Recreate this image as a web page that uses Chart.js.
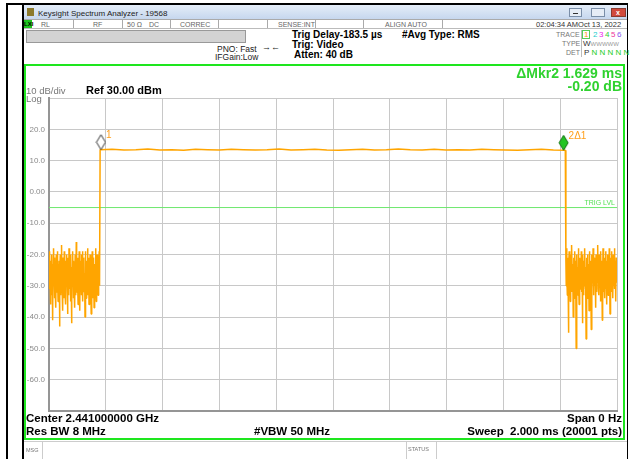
<!DOCTYPE html>
<html>
<head>
<meta charset="utf-8">
<script src="https://cdn.jsdelivr.net/npm/chart.js@4.4.0/dist/chart.umd.min.js"></script>
<style>
body{margin:0;width:631px;height:459px;overflow:hidden;background:#fff;font-family:"Liberation Sans",Arial,sans-serif;position:relative}
.a{position:absolute;white-space:nowrap;line-height:1}
.b{font-weight:bold;color:#000}
.s{font-size:7px;color:#666}
.ln{position:absolute}
#frame{position:absolute;left:24px;top:64px;width:601px;height:376px;border:2px solid #1ee61e;box-sizing:border-box}
#wrap{position:absolute;left:26px;top:66px;width:597px;height:373px}
</style>
</head>
<body>
<!-- outer page lines -->
<div class="ln" style="left:6px;top:3px;width:2px;height:456px;background:#000"></div>
<div class="ln" style="left:6px;top:3px;width:622px;height:2px;background:#000"></div>
<div class="ln" style="left:627px;top:3px;width:1px;height:456px;background:#000"></div>
<div class="ln" style="left:22px;top:5px;width:2px;height:454px;background:#000"></div>

<!-- title bar -->
<div class="ln" style="left:24px;top:5px;width:603px;height:14px;background:linear-gradient(#e4edf8,#c6d7ee)"></div>
<div class="ln" style="left:27px;top:8px;width:7px;height:8px;background:#8c7a2c"></div>
<div class="a" style="left:38px;top:10px;font-size:8px;color:#222">Keysight Spectrum Analyzer - 19568</div>
<div class="ln" style="left:569px;top:8px;width:13px;height:9px;border:1px solid #7a8ea8;background:#e6edf6;box-sizing:border-box"></div>
<div class="ln" style="left:573px;top:13px;width:5px;height:1px;background:#333"></div>
<div class="ln" style="left:591px;top:8px;width:14px;height:9px;border:1px solid #7a8ea8;background:#e6edf6;box-sizing:border-box"></div>
<div class="ln" style="left:611px;top:8px;width:15px;height:9px;border:1px solid #8a3a30;background:#d24a3c;box-sizing:border-box"></div>
<div class="a" style="left:616px;top:9px;font-size:7px;color:#fff;font-weight:bold">x</div>

<!-- status row -->
<div class="ln" style="left:24px;top:19px;width:603px;height:1px;background:#aaa"></div>
<div class="ln" style="left:24px;top:28px;width:603px;height:1px;background:#bbb"></div>
<div class="ln" style="left:24px;top:20px;width:8px;height:8px;background:#1ec51e"></div>
<div class="a" style="left:24px;top:21px;font-size:6px;color:#000;font-weight:bold">LXI</div>
<div class="a s" style="left:41px;top:21px">RL</div>
<div class="a s" style="left:93px;top:21px">RF</div>
<div class="a s" style="left:127px;top:21px">50 Ω</div>
<div class="a s" style="left:149px;top:21px">DC</div>
<div class="a s" style="left:180px;top:21px">CORREC</div>
<div class="a s" style="left:278px;top:21px">SENSE:INT</div>
<div class="a s" style="left:385px;top:21px">ALIGN AUTO</div>
<div class="a" style="left:536px;top:21px;font-size:7.5px;color:#333">02:04:34 AMOct 13, 2022</div>
<div class="ln" style="left:73px;top:20px;width:1px;height:8px;background:#aaa"></div>
<div class="ln" style="left:122px;top:20px;width:1px;height:8px;background:#aaa"></div>
<div class="ln" style="left:170px;top:20px;width:1px;height:8px;background:#aaa"></div>
<div class="ln" style="left:218px;top:20px;width:1px;height:8px;background:#aaa"></div>
<div class="ln" style="left:267px;top:20px;width:1px;height:8px;background:#aaa"></div>
<div class="ln" style="left:315px;top:20px;width:1px;height:8px;background:#aaa"></div>
<div class="ln" style="left:363px;top:20px;width:1px;height:8px;background:#aaa"></div>
<div class="ln" style="left:442px;top:20px;width:1px;height:8px;background:#aaa"></div>

<!-- settings area -->
<div class="ln" style="left:26px;top:30px;width:220px;height:13px;background:#d3d3d3;border:1px solid #999;box-sizing:border-box"></div>
<div class="a" style="left:217px;top:45px;font-size:8.5px;color:#222">PNO: Fast</div>
<div class="a" style="left:215px;top:53px;font-size:8.5px;color:#222">IFGain:Low</div>
<div class="a" style="left:262px;top:43px;font-size:9px;color:#222">→←</div>
<div class="a b" style="left:292px;top:30px;font-size:10px">Trig Delay-183.5 µs</div>
<div class="a b" style="left:292px;top:40px;font-size:10px">Trig: Video</div>
<div class="a b" style="left:294px;top:50px;font-size:10px">Atten: 40 dB</div>
<div class="a b" style="left:402px;top:30px;font-size:10px">#Avg Type: RMS</div>
<div class="a" style="left:556px;top:31px;font-size:7px;color:#777">TRACE</div>
<div class="a" style="left:562px;top:40px;font-size:7px;color:#777">TYPE</div>
<div class="a" style="left:566px;top:49px;font-size:7px;color:#777">DET</div>
<div class="ln" style="left:581px;top:30px;width:1px;height:27px;background:#bbb"></div>
<div class="ln" style="left:582px;top:30px;width:8px;height:9px;border:1px solid #55cc55;box-sizing:border-box"></div>
<div class="a" style="left:584px;top:31px;font-size:8px;color:#ff9900">1</div>
<div class="a" style="left:593px;top:31px;font-size:8px;color:#22cccc">2</div>
<div class="a" style="left:599px;top:31px;font-size:8px;color:#ee22ee">3</div>
<div class="a" style="left:605px;top:31px;font-size:8px;color:#33cc33">4</div>
<div class="a" style="left:611px;top:31px;font-size:8px;color:#ee3399">5</div>
<div class="a" style="left:617px;top:31px;font-size:8px;color:#8855ee">6</div>
<div class="a" style="left:583px;top:40px;font-size:8px;color:#333">W<span style="color:#999;font-size:6px">WWWWW</span></div>
<div class="a" style="left:584px;top:49px;font-size:8px;color:#333">P <span style="color:#22cc22">N N N N N</span></div>

<!-- plot window -->
<div id="frame"></div>
<div id="wrap"><canvas id="trace" width="597" height="373"></canvas></div>

<div class="a" style="left:26px;top:86px;font-size:9.5px;color:#777">10 dB/div</div>
<div class="a" style="left:26px;top:94px;font-size:9.5px;color:#777">Log</div>
<div class="a b" style="left:86px;top:85px;font-size:11px">Ref 30.00 dBm</div>
<div class="a" style="right:9px;top:66px;font-size:14px;font-weight:bold;color:#2fd22f;text-align:right">ΔMkr2 1.629 ms</div>
<div class="a" style="right:9px;top:79px;font-size:14px;font-weight:bold;color:#2fd22f;text-align:right">-0.20 dB</div>

<div class="a b" style="left:26px;top:413px;font-size:11.5px">Center 2.441000000 GHz</div>
<div class="a b" style="left:26px;top:426px;font-size:11.5px">Res BW 8 MHz</div>
<div class="a b" style="left:254px;top:426px;font-size:11.5px">#VBW 50 MHz</div>
<div class="a b" style="right:9px;top:413px;font-size:11.5px">Span 0 Hz</div>
<div class="a b" style="right:9px;top:426px;font-size:11.5px">Sweep&nbsp;&nbsp;2.000 ms (20001 pts)</div>

<!-- message bar -->
<div class="ln" style="left:24px;top:441px;width:603px;height:1px;background:#ccc"></div>
<div class="a" style="left:26px;top:448px;font-size:5.5px;color:#777">MSG</div>
<div class="ln" style="left:42px;top:441px;width:1px;height:18px;background:#ccc"></div>
<div class="ln" style="left:406px;top:441px;width:1px;height:18px;background:#ccc"></div>
<div class="ln" style="left:436px;top:441px;width:1px;height:18px;background:#ccc"></div>
<div class="a" style="left:408px;top:447px;font-size:5.5px;color:#777">STATUS</div>

<script>
// sweep time in ms, level in dBm
var sweepStart = 0, sweepEnd = 2;
var levelTicks = [30, 20, 10, 0, -10, -20, -30, -40, -50, -60, -70];
var levelLabels = ['', '20.0', '10.0', '0.00', '-10.0', '-20.0', '-30.0', '-40.0', '-50.0', '-60.0', ''];

// noise floor before the burst (0 .. 0.178 ms)
var noiseBefore = [-24,-31,-19,-28,-36,-22,-27,-33,-20,-29,-41,-23,-30,-18,-26,-34,-21,-31,-25,-37,
  -20,-28,-32,-19,-27,-35,-23,-30,-22,-43,-26,-20,-33,-24,-29,-17,-31,-26,-38,-21,
  -28,-34,-19,-25,-32,-22,-36,-27,-20,-30,-24,-39,-21,-29,-33,-18,-26,-31,-23,-35,
  -20,-28,-42,-24,-30,-19,-27,-34,-22,-31,-25,-37,-20,-29,-33,-16,-26,-32,-21,-28,
  -36,-23,-30,-19,-27,-38,-22,-31,-25,-20,-33,-27,-19,-35,-24,-29,-21,-32,-26,-40,
  -19,-28,-34,-22,-30,-25,-18,-33,-27,-21,-36,-24,-29,-20,-31,-26,-39,-22,-28,-19,
  -34,-25,-30,-21,-37,-27,-23,-32,-18,-29,-35,-24,-20,-31,-26,-33,-22,-28,-19,-30];
// burst plateau (0.180 .. 1.818 ms)
var burst = [13.5,13.6,13.4,13.5,13.7,13.4,13.5,13.3,13.6,13.5,13.4,13.6,13.5,13.4,13.5,13.7,13.4,13.5,13.6,13.4,
  13.3,13.5,13.6,13.4,13.5,13.7,13.5,13.4,13.6,13.4,13.5,13.4,13.6,13.5,13.4,13.3,13.5,13.6,13.4,13.3];
// noise floor after the burst (1.820 .. 2.000 ms)
var noiseAfter = [-22,-30,-18,-27,-33,-21,-29,-45,-24,-19,-31,-26,-35,-20,-28,-32,-17,-25,-30,-23,
  -40,-21,-29,-34,-19,-27,-31,-22,-50,-26,-20,-30,-24,-33,-18,-28,-36,-21,-27,-31,
  -23,-29,-19,-32,-25,-42,-20,-28,-33,-22,-30,-18,-26,-31,-24,-47,-21,-29,-34,-20,
  -27,-32,-23,-38,-19,-28,-30,-22,-26,-44,-20,-31,-25,-29,-18,-27,-33,-21,-30,-24,
  -28,-37,-20,-32,-26,-22,-29,-17,-31,-25,-33,-20,-28,-24,-35,-19,-30,-26,-22,-41,
  -27,-18,-32,-23,-29,-21,-34,-25,-19,-31,-27,-36,-22,-28,-20,-33,-24,-30,-18,-26,
  -39,-21,-29,-25,-32,-19,-27,-23,-34,-20,-30,-26,-18,-31,-22,-28,-35,-21,-29,-24];
var segBefore = [0, 0.178];
var segBurst = [0.180, 1.818];
var segAfter = [1.820, 2.0];

var markerTimes = [0.183, 1.812];
var markerLevels = [13.5, 13.3];
var markerNames = ['1', '2\u03941'];
var trigLevel = -5;

// sweep points are evenly spaced in time inside each segment
function spread(vals, seg) {
  return vals.map(function(v, i){
    return {x: seg[0] + (seg[1] - seg[0]) * i / (vals.length - 1), y: v};
  });
}
var tracePts = spread(noiseBefore, segBefore).concat(spread(burst, segBurst), spread(noiseAfter, segAfter));

function diamond(fill, stroke) {
  var c = document.createElement('canvas');
  c.width = 11; c.height = 32;
  var g = c.getContext('2d');
  g.beginPath();
  g.moveTo(5.5, 1); g.lineTo(10, 8.5); g.lineTo(5.5, 16); g.lineTo(1, 8.5); g.closePath();
  g.fillStyle = fill; g.fill();
  g.lineWidth = 1; g.strokeStyle = stroke; g.stroke();
  return c;
}
var markerStyles = [diamond('#ffffff', '#333333'), diamond('#22c422', '#0d6d0d')];

var markerText = {
  id: 'markerText',
  afterDatasetsDraw: function(chart) {
    var ctx = chart.ctx, xs = chart.scales.x, ys = chart.scales.y;
    ctx.save();
    ctx.font = '10px "Liberation Sans", Arial';
    ctx.fillStyle = '#ff9f1a';
    ctx.textBaseline = 'middle';
    markerTimes.forEach(function(t, i){
      ctx.fillText(markerNames[i], xs.getPixelForValue(t) + 5, ys.getPixelForValue(markerLevels[i]) - 14);
    });
    ctx.font = '7px "Liberation Sans", Arial';
    ctx.fillStyle = '#55e055';
    ctx.textAlign = 'right';
    ctx.fillText('TRIG LVL', chart.chartArea.right - 2, ys.getPixelForValue(trigLevel) - 4);
    ctx.restore();
  }
};

var ctx = document.getElementById('trace').getContext('2d');
var myChart = new Chart(ctx, {
  type: 'line',
  data: {
    datasets: [{
      data: markerTimes.map(function(t, i){ return {x: t, y: markerLevels[i]}; }),
      showLine: false,
      pointStyle: markerStyles,
      pointRadius: 5,
      clip: false
    }, {
      data: tracePts,
      borderColor: '#ffa500',
      borderWidth: 1.5,
      borderJoinStyle: 'bevel',
      pointRadius: 0,
      tension: 0
    }, {
      data: [{x: sweepStart, y: trigLevel}, {x: sweepEnd, y: trigLevel}],
      borderColor: '#6ee86e',
      borderWidth: 1,
      pointRadius: 0
    }]
  },
  options: {
    responsive: false,
    animation: false,
    devicePixelRatio: 1,
    layout: {padding: {top: 32, right: 1, bottom: 28, left: 0}},
    plugins: {legend: {display: false}, tooltip: {enabled: false}},
    scales: {
      x: {
        type: 'linear', min: sweepStart, max: sweepEnd,
        ticks: {stepSize: 0.2, display: false},
        grid: {color: '#c8c8c8', lineWidth: 1, drawTicks: false},
        border: {color: '#959595', width: 2},
        afterFit: function(s){ s.height = 0; }
      },
      y: {
        min: levelTicks[levelTicks.length - 1], max: levelTicks[0],
        afterBuildTicks: function(s){ s.ticks = levelTicks.map(function(v){ return {value: v}; }); },
        ticks: {
          padding: 4,
          color: '#8a8a8a',
          font: {size: 8, family: '"Liberation Sans", Arial'},
          callback: function(v){ return levelLabels[levelTicks.indexOf(v)]; }
        },
        grid: {color: '#c8c8c8', lineWidth: 1, drawTicks: false},
        border: {color: '#959595', width: 2},
        afterFit: function(s){ s.width = 23; }
      }
    }
  },
  plugins: [markerText]
});
</script>
</body>
</html>
